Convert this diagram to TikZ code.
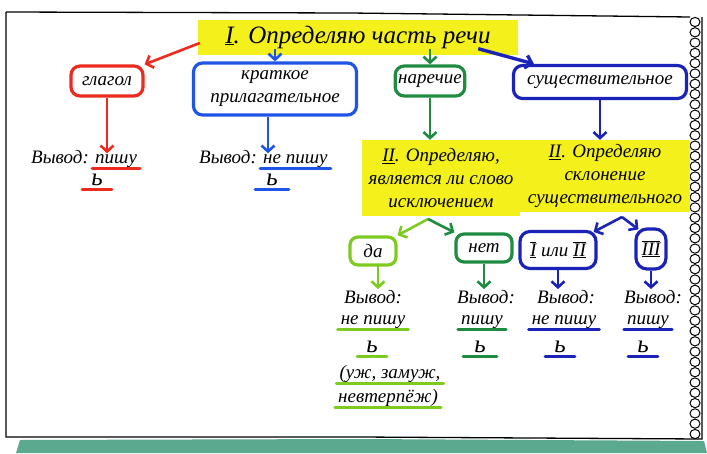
\documentclass[tikz,border=0pt]{standalone}
\usepackage{fontspec}
\setmainfont{Liberation Serif}
\usetikzlibrary{arrows.meta,calc}
\definecolor{hly}{HTML}{F4F01C}
\definecolor{cred}{HTML}{EC2A1E}
\definecolor{cblue}{HTML}{1F55E6}
\definecolor{cdblue}{HTML}{1A22B8}
\definecolor{cgreen}{HTML}{1E8B40}
\definecolor{clgreen}{HTML}{7CCB1E}
\definecolor{stripe}{HTML}{5BA98E}
\newcommand{\romnum}[1]{$\underline{\overline{\hbox{#1}}}$}
\tikzset{
  box/.style={draw, line width=3.2pt, rounded corners=9pt, inner xsep=3pt, inner ysep=2pt, align=center, text=black},
  hl/.style={fill=hly, inner sep=3pt, align=center},
  arr/.style={line width=2.6pt, -{Straight Barb[length=6pt,width=13pt]}},
  ul/.style={line width=3pt, line cap=round},
  txt/.style={inner sep=1pt},
  soft/.style={inner sep=1pt, font=\itshape\fontsize{25}{25}\selectfont},
}
\begin{document}
\begin{tikzpicture}[x=1pt,y=-1pt, font=\itshape\fontsize{19}{23}\selectfont]
\useasboundingbox (0,0) rectangle (707,453);
% notebook frame
\fill[stripe] (20,440) -- (360,439) -- (704,441) -- (707,453) -- (16,453) -- cycle;
\draw[line width=1.3pt] (6,12) -- (350,13) -- (690,17);
\draw[line width=1.3pt] (6,12) -- (6,437) -- (360,437) -- (702,439) -- (702,17);
\foreach \k in {0,...,40} \draw[line width=1pt, fill=white] (695,{22+10.3*\k}) ellipse (5 and 4.6);

% level I
\node[hl, minimum width=320, minimum height=35, font=\itshape\fontsize{25}{26}\selectfont] (t1) at (358,37) {\underline{I}. Определяю часть речи};
\node[box, draw=cred, minimum width=72, minimum height=30] (glagol) at (107,81) {глагол};
\node[box, draw=cblue, minimum width=163, minimum height=52] (krat) at (275,89) {краткое\\прилагательное};
\node[box, draw=cgreen, minimum width=68, minimum height=30] (nar) at (430,81) {наречие};
\node[box, draw=cdblue, minimum width=173, minimum height=33] (sush) at (600,82) {существительное};

\draw[arr, cred] ($(t1.west)+(2,6)$) -- (glagol.north east);
\draw[arr, cblue] ($(t1.south -| krat.north)+(0,-6)$) -- (krat.north);
\draw[arr, cgreen] ($(t1.south -| nar.north)+(0,-6)$) -- (nar.north);
\draw[arr, cdblue, line width=3.4pt] ($(t1.south east)+(-40,-6)$) -- ($(sush.north west)+(22,0)$);

% conclusions for verb and short adjective
\node[txt] (v1) at (60,157) {Вывод:};
\node[txt, anchor=base west] (p1) at ($(v1.base east)+(4,0)$) {пишу};
\node[soft] (s1) at (97,180) {ь};
\draw[ul, cred] ($(p1.south west)+(-2,0)$) -- ($(p1.south east)+(2,0)$);
\draw[ul, cred] ($(s1.south west)+(-8,2)$) -- ($(s1.south east)+(8,2)$);
\draw[arr, cred] (glagol.south) -- (glagol.south |- p1.north);

\node[txt] (v2) at (228,157) {Вывод:};
\node[txt, anchor=base west] (p2) at ($(v2.base east)+(4,0)$) {не пишу};
\node[soft] (s2) at (272,180) {ь};
\draw[ul, cblue] ($(p2.south west)+(-2,0)$) -- ($(p2.south east)+(2,0)$);
\draw[ul, cblue] ($(s2.south west)+(-10,2)$) -- ($(s2.south east)+(10,2)$);
\coordinate (ka) at (268,117);
\draw[arr, cblue] (ka) -- (ka |- p2.north);

% level II
\node[hl, minimum width=158, minimum height=76] (t2a) at (441,178) {\underline{II}. Определяю,\\является ли слово\\исключением};
\node[hl, minimum width=170, minimum height=72] (t2b) at (605,176) {\underline{II}. Определяю\\склонение\\существительного};
\draw[arr, cgreen] (nar.south) -- (nar.south |- t2a.north);
\draw[arr, cdblue] (sush.south) -- (sush.south |- t2b.north);

% level III
\node[box, draw=clgreen, rounded corners=8pt, minimum width=46, minimum height=28] (da) at (373,251) {да};
\node[box, draw=cgreen, rounded corners=8pt, minimum width=56, minimum height=28] (net) at (484,248) {нет};
\node[box, draw=cdblue, rounded corners=10pt, minimum width=76, minimum height=37] (i12) at (558,250) {\romnum{I} или \romnum{II}};
\node[box, draw=cdblue, rounded corners=11pt, minimum width=30, minimum height=40, inner xsep=1pt] (i3) at (651,249) {\romnum{III}};

\coordinate (ga) at (428,219);
\coordinate (gb) at (622,217);
\draw[arr, clgreen] (ga) -- (da.north east);
\draw[arr, cgreen] (ga) -- (net.north west);
\draw[arr, cdblue] (gb) -- ($(i12.north east)+(-4,2)$);
\draw[arr, cdblue] (gb) -- ($(i3.north west)+(4,2)$);

% conclusions row
\node[txt] (v3) at (373,297) {Вывод:};
\node[txt] (p3) at (373,322) {не пишу};
\node[soft] (s3) at (372,347) {ь};
\node[txt] (e3) at (390,374) {(уж, замуж,};
\node[txt] (f3) at (388,398) {невтерпёж)};
\draw[ul, clgreen] ($(p3.south west)+(-2,0)$) -- ($(p3.south east)+(2,0)$);
\draw[ul, clgreen] ($(s3.south west)+(-8,2)$) -- ($(s3.south east)+(8,2)$);
\draw[ul, clgreen] ($(e3.south west)+(-2,0)$) -- ($(e3.south east)+(2,0)$);
\draw[ul, clgreen] ($(f3.south west)+(-2,0)$) -- ($(f3.south east)+(2,0)$);
\coordinate (dd) at (378,266);
\draw[arr, clgreen] (dd) -- (dd |- v3.north);

\node[txt] (v4) at (486,297) {Вывод:};
\node[txt] (p4) at (482,322) {пишу};
\node[soft] (s4) at (480,347) {ь};
\draw[ul, cgreen] ($(p4.south west)+(-2,0)$) -- ($(p4.south east)+(2,0)$);
\draw[ul, cgreen] ($(s4.south west)+(-10,2)$) -- ($(s4.south east)+(10,2)$);
\draw[arr, cgreen] (net.south) -- (net.south |- v4.north);

\node[txt] (v5) at (566,297) {Вывод:};
\node[txt] (p5) at (564,322) {не пишу};
\node[soft] (s5) at (560,347) {ь};
\draw[ul, cdblue] ($(p5.south west)+(-2,0)$) -- ($(p5.south east)+(2,0)$);
\draw[ul, cdblue] ($(s5.south west)+(-8,2)$) -- ($(s5.south east)+(8,2)$);
\draw[arr, cdblue] (i12.south) -- (i12.south |- v5.north);

\node[txt] (v6) at (653,297) {Вывод:};
\node[txt] (p6) at (648,322) {пишу};
\node[soft] (s6) at (643,347) {ь};
\draw[ul, cdblue] ($(p6.south west)+(-2,0)$) -- ($(p6.south east)+(2,0)$);
\draw[ul, cdblue] ($(s6.south west)+(-8,2)$) -- ($(s6.south east)+(8,2)$);
\draw[arr, cdblue] (i3.south) -- (i3.south |- v6.north);
\end{tikzpicture}
\end{document}
